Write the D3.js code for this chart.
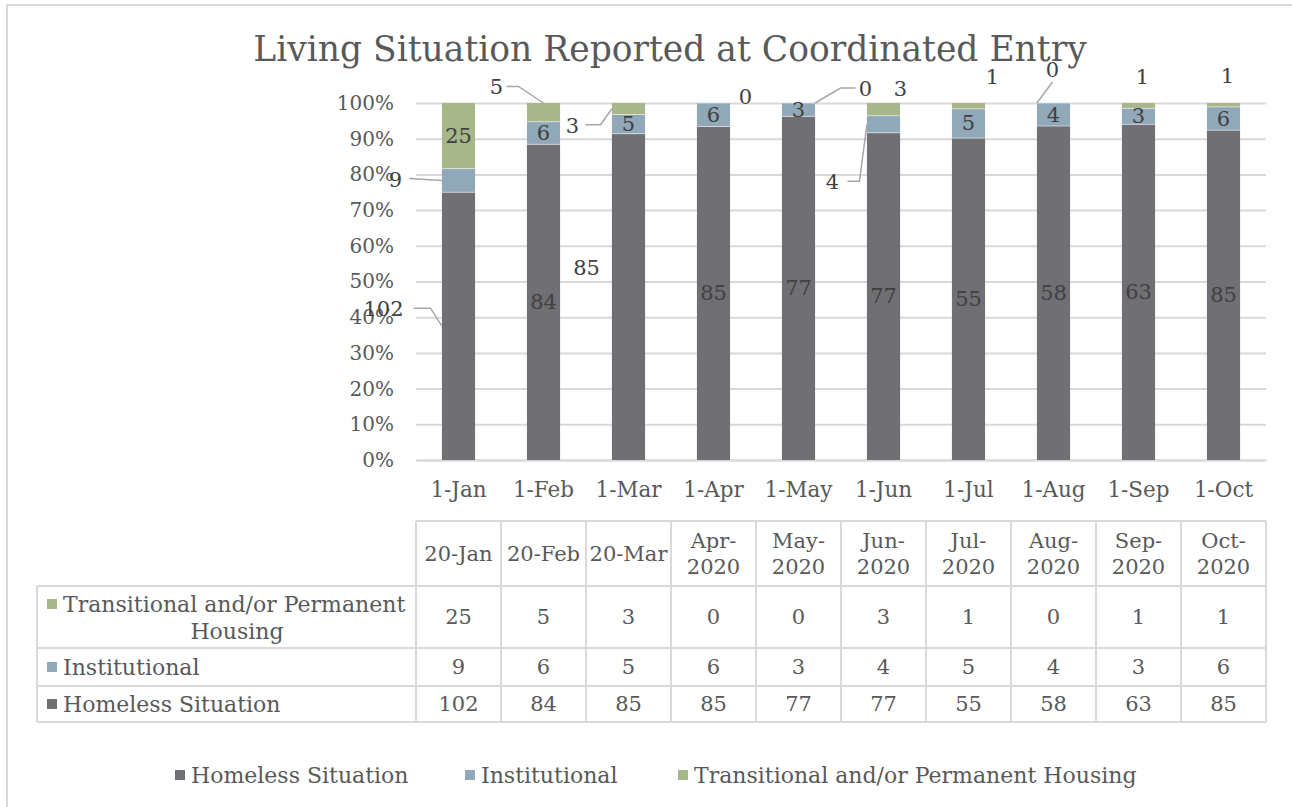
<!DOCTYPE html>
<html>
<head>
<meta charset="utf-8">
<script src="https://cdn.jsdelivr.net/npm/d3@7"></script>
<style>
  body { margin: 0; background: #fff; }
  text { font-family: "DejaVu Serif", serif; fill: #595959; }
</style>
</head>
<body>
<div id="chart"></div>
<script>
// Data
var axisLabels = ["1-Jan", "1-Feb", "1-Mar", "1-Apr", "1-May", "1-Jun", "1-Jul", "1-Aug", "1-Sep", "1-Oct"];
var tableHeaders = [["20-Jan"], ["20-Feb"], ["20-Mar"], ["Apr-", "2020"], ["May-", "2020"], ["Jun-", "2020"],
                    ["Jul-", "2020"], ["Aug-", "2020"], ["Sep-", "2020"], ["Oct-", "2020"]];
var seriesNames = ["Homeless Situation", "Institutional", "Transitional and/or Permanent Housing"];
var homeless = [102, 84, 85, 85, 77, 77, 55, 58, 63, 85];
var institutional = [9, 6, 5, 6, 3, 4, 5, 4, 3, 6];
var transitional = [25, 5, 3, 0, 0, 3, 1, 0, 1, 1];
var colors = ["#706f74", "#90a8b8", "#a8b78a"];

// labels that were dragged off their bars (series index, category index, offset in px, leader)
var movedLabels = [
  {s: 0, c: 0, dx: -75, dy: -17, leader: {start: [30, -1], elbow: 17, edge: -1, at: "mid"}},
  {s: 1, c: 0, dx: -63, dy: 0, leader: {start: [14, -2], elbow: 0, edge: -1, at: "mid"}},
  {s: 2, c: 1, dx: -47, dy: -25, leader: {start: [10, -1], elbow: 12, edge: 0, at: "top"}},
  {s: 0, c: 2, dx: -42, dy: -29},
  {s: 2, c: 2, dx: -56, dy: 17, leader: {start: [13, -1], elbow: 15, edge: -1, at: "mid"}},
  {s: 2, c: 3, dx: 32, dy: -6},
  {s: 2, c: 4, dx: 67, dy: -14, leader: {start: [-10, -1], elbow: -15, edge: 1, at: "top"}},
  {s: 1, c: 5, dx: -51, dy: 58, leader: {start: [15, -1], elbow: 12, edge: -1, at: "mid"}},
  {s: 2, c: 5, dx: 17, dy: -20},
  {s: 2, c: 6, dx: 24, dy: -29},
  {s: 2, c: 7, dx: -1, dy: -33, leader: {start: [0, 12], elbow: 0, edge: -1, at: "top"}},
  {s: 2, c: 8, dx: 4, dy: -29},
  {s: 2, c: 9, dx: 4, dy: -29}
];

var W = 1292, H = 807;
var svg = d3.select("#chart").append("svg")
    .attr("width", W)
    .attr("height", H);

// chart border
svg.append("rect")
    .attr("x", 7).attr("y", 5)
    .attr("width", W + 20).attr("height", H + 20)
    .attr("fill", "none").attr("stroke", "#d9d9d9").attr("stroke-width", 2);

svg.append("text")
    .attr("x", 670).attr("y", 61)
    .attr("text-anchor", "middle")
    .style("font-size", "34.5px")
    .text("Living Situation Reported at Coordinated Entry");

var plot = {left: 416, right: 1266, top: 103, bottom: 460};

var x = d3.scaleBand()
    .domain(d3.range(axisLabels.length))
    .range([plot.left, plot.right])
    .paddingInner(0.61)
    .paddingOuter(0.305);

var y = d3.scaleLinear()
    .domain([0, 1])
    .range([plot.bottom, plot.top]);

// gridlines + y axis labels
var yAxis = d3.axisLeft(y)
    .tickValues(d3.range(0, 1.01, 0.1))
    .tickFormat(d3.format(".0%"))
    .tickSize(-(plot.right - plot.left))
    .tickPadding(22);

var yg = svg.append("g")
    .attr("transform", "translate(" + plot.left + ",0)")
    .call(yAxis);
yg.select(".domain").remove();
yg.selectAll(".tick line").attr("stroke", "#d9d9d9").attr("stroke-width", 2);
yg.selectAll(".tick text")
    .attr("fill", "#595959")
    .style("font-size", "20px")
    .style("font-family", "DejaVu Serif");

// x axis
var xAxis = d3.axisBottom(x)
    .tickFormat(function(i) { return axisLabels[i]; })
    .tickSize(0)
    .tickPadding(22);
var xg = svg.append("g")
    .attr("transform", "translate(0," + plot.bottom + ")")
    .call(xAxis);
xg.select(".domain").attr("stroke", "#d9d9d9").attr("stroke-width", 2);
xg.selectAll(".tick text")
    .attr("fill", "#595959")
    .style("font-size", "21.5px")
    .style("font-family", "DejaVu Serif");

// stack into proportions
var rows = axisLabels.map(function(d, i) {
  var tot = homeless[i] + institutional[i] + transitional[i];
  return {i: i, vals: [homeless[i], institutional[i], transitional[i]], total: tot};
});
var stack = d3.stack()
    .keys([0, 1, 2])
    .value(function(d, k) { return d.vals[k] / d.total; });
var series = stack(rows);

var bw = x.bandwidth();

svg.append("g").selectAll("g")
    .data(series)
    .enter().append("g")
    .attr("fill", function(d, k) { return colors[k]; })
  .selectAll("rect")
    .data(function(d) { return d; })
    .enter().append("rect")
    .attr("x", function(d) { return x(d.data.i); })
    .attr("y", function(d) { return y(d[1]); })
    .attr("width", bw)
    .attr("height", function(d) { return y(d[0]) - y(d[1]); });

// thin separators between segments
svg.append("g").selectAll("line")
    .data(series[0].concat(series[1]))
    .enter().append("line")
    .attr("x1", function(d) { return x(d.data.i); })
    .attr("x2", function(d) { return x(d.data.i) + bw; })
    .attr("y1", function(d) { return y(d[1]); })
    .attr("y2", function(d) { return y(d[1]); })
    .attr("stroke", "#fff").attr("stroke-opacity", 0.5).attr("stroke-width", 1);

// data labels
var labels = [];
series.forEach(function(ser, k) {
  ser.forEach(function(d) {
    var cx = x(d.data.i) + bw / 2;
    var cy = (y(d[0]) + y(d[1])) / 2;
    var m = movedLabels.find(function(o) { return o.s === k && o.c === d.data.i; });
    var lab = {text: d.data.vals[k], x: cx, y: cy, seg: d, cx: cx};
    if (m) {
      lab.x = cx + m.dx;
      lab.y = cy + m.dy;
      lab.leader = m.leader;
    }
    labels.push(lab);
  });
});

var leaders = labels.filter(function(l) { return l.leader; });
svg.append("g").selectAll("path")
    .data(leaders)
    .enter().append("path")
    .attr("fill", "none")
    .attr("stroke", "#a6a6a6")
    .attr("stroke-width", 1.5)
    .attr("d", function(l) {
      var p0 = [l.x + l.leader.start[0], l.y + l.leader.start[1]];
      var p1 = [p0[0] + l.leader.elbow, p0[1]];
      var ex = l.cx + l.leader.edge * bw / 2;
      var ey = l.leader.at === "top" ? y(l.seg[1]) : (y(l.seg[0]) + y(l.seg[1])) / 2;
      return d3.line()([p0, p1, [ex, ey]]);
    });

svg.append("g").selectAll("text")
    .data(labels)
    .enter().append("text")
    .attr("x", function(l) { return l.x; })
    .attr("y", function(l) { return l.y; })
    .attr("text-anchor", "middle")
    .attr("dominant-baseline", "central")
    .style("fill", "#404040")
    .style("font-size", "21px")
    .text(function(l) { return l.text; });

// data table
var tbl = {left: 37, top: 521, rows: [586, 648, 686, 722]};
var grid = svg.append("g").attr("stroke", "#d9d9d9").attr("stroke-width", 2);
grid.append("line")
    .attr("x1", plot.left).attr("x2", plot.right)
    .attr("y1", tbl.top).attr("y2", tbl.top);
tbl.rows.forEach(function(ry) {
  grid.append("line")
      .attr("x1", tbl.left).attr("x2", plot.right)
      .attr("y1", ry).attr("y2", ry);
});
grid.append("line")
    .attr("x1", tbl.left).attr("x2", tbl.left)
    .attr("y1", tbl.rows[0]).attr("y2", tbl.rows[3]);
d3.range(axisLabels.length + 1).forEach(function(i) {
  var cx = plot.left + i * x.step();
  grid.append("line")
      .attr("x1", cx).attr("x2", cx)
      .attr("y1", tbl.top).attr("y2", tbl.rows[3]);
});

// header cells
var hdr = svg.append("g").style("font-size", "21px").attr("text-anchor", "middle");
tableHeaders.forEach(function(lines, i) {
  var cx = plot.left + (i + 0.5) * x.step();
  var mid = (tbl.top + tbl.rows[0]) / 2;
  lines.forEach(function(t, j) {
    hdr.append("text")
        .attr("x", cx)
        .attr("y", mid + (j - (lines.length - 1) / 2) * 26)
        .attr("dominant-baseline", "central")
        .text(t);
  });
});

// body rows: transitional, institutional, homeless
var tableRows = [
  {name: ["Transitional and/or Permanent", "Housing"], vals: transitional, color: colors[2], top: tbl.rows[0], bottom: tbl.rows[1]},
  {name: ["Institutional"], vals: institutional, color: colors[1], top: tbl.rows[1], bottom: tbl.rows[2]},
  {name: ["Homeless Situation"], vals: homeless, color: colors[0], top: tbl.rows[2], bottom: tbl.rows[3]}
];
var body = svg.append("g").style("font-size", "21px");
tableRows.forEach(function(r) {
  var mid = (r.top + r.bottom) / 2;
  var firstY = r.name.length > 1 ? mid - 13 : mid;
  body.append("rect")
      .attr("x", 47).attr("y", firstY - 5)
      .attr("width", 10).attr("height", 10)
      .attr("fill", r.color);
  body.append("text")
      .attr("x", 63).attr("y", firstY)
      .attr("dominant-baseline", "central")
      .style("font-size", "22px")
      .text(r.name[0]);
  if (r.name.length > 1) {
    body.append("text")
        .attr("x", 237).attr("y", firstY + 27)
        .attr("text-anchor", "middle")
        .attr("dominant-baseline", "central")
        .style("font-size", "22px")
        .text(r.name[1]);
  }
  r.vals.forEach(function(v, i) {
    body.append("text")
        .attr("x", plot.left + (i + 0.5) * x.step())
        .attr("y", mid)
        .attr("text-anchor", "middle")
        .attr("dominant-baseline", "central")
        .text(v);
  });
});

// legend
var legendX = [175, 465, 678];
var leg = svg.append("g").style("font-size", "22px");
seriesNames.forEach(function(n, k) {
  leg.append("rect")
      .attr("x", legendX[k]).attr("y", 770)
      .attr("width", 10).attr("height", 10)
      .attr("fill", colors[k]);
  leg.append("text")
      .attr("x", legendX[k] + 16).attr("y", 775)
      .attr("dominant-baseline", "central")
      .text(n);
});
</script>
</body>
</html>
